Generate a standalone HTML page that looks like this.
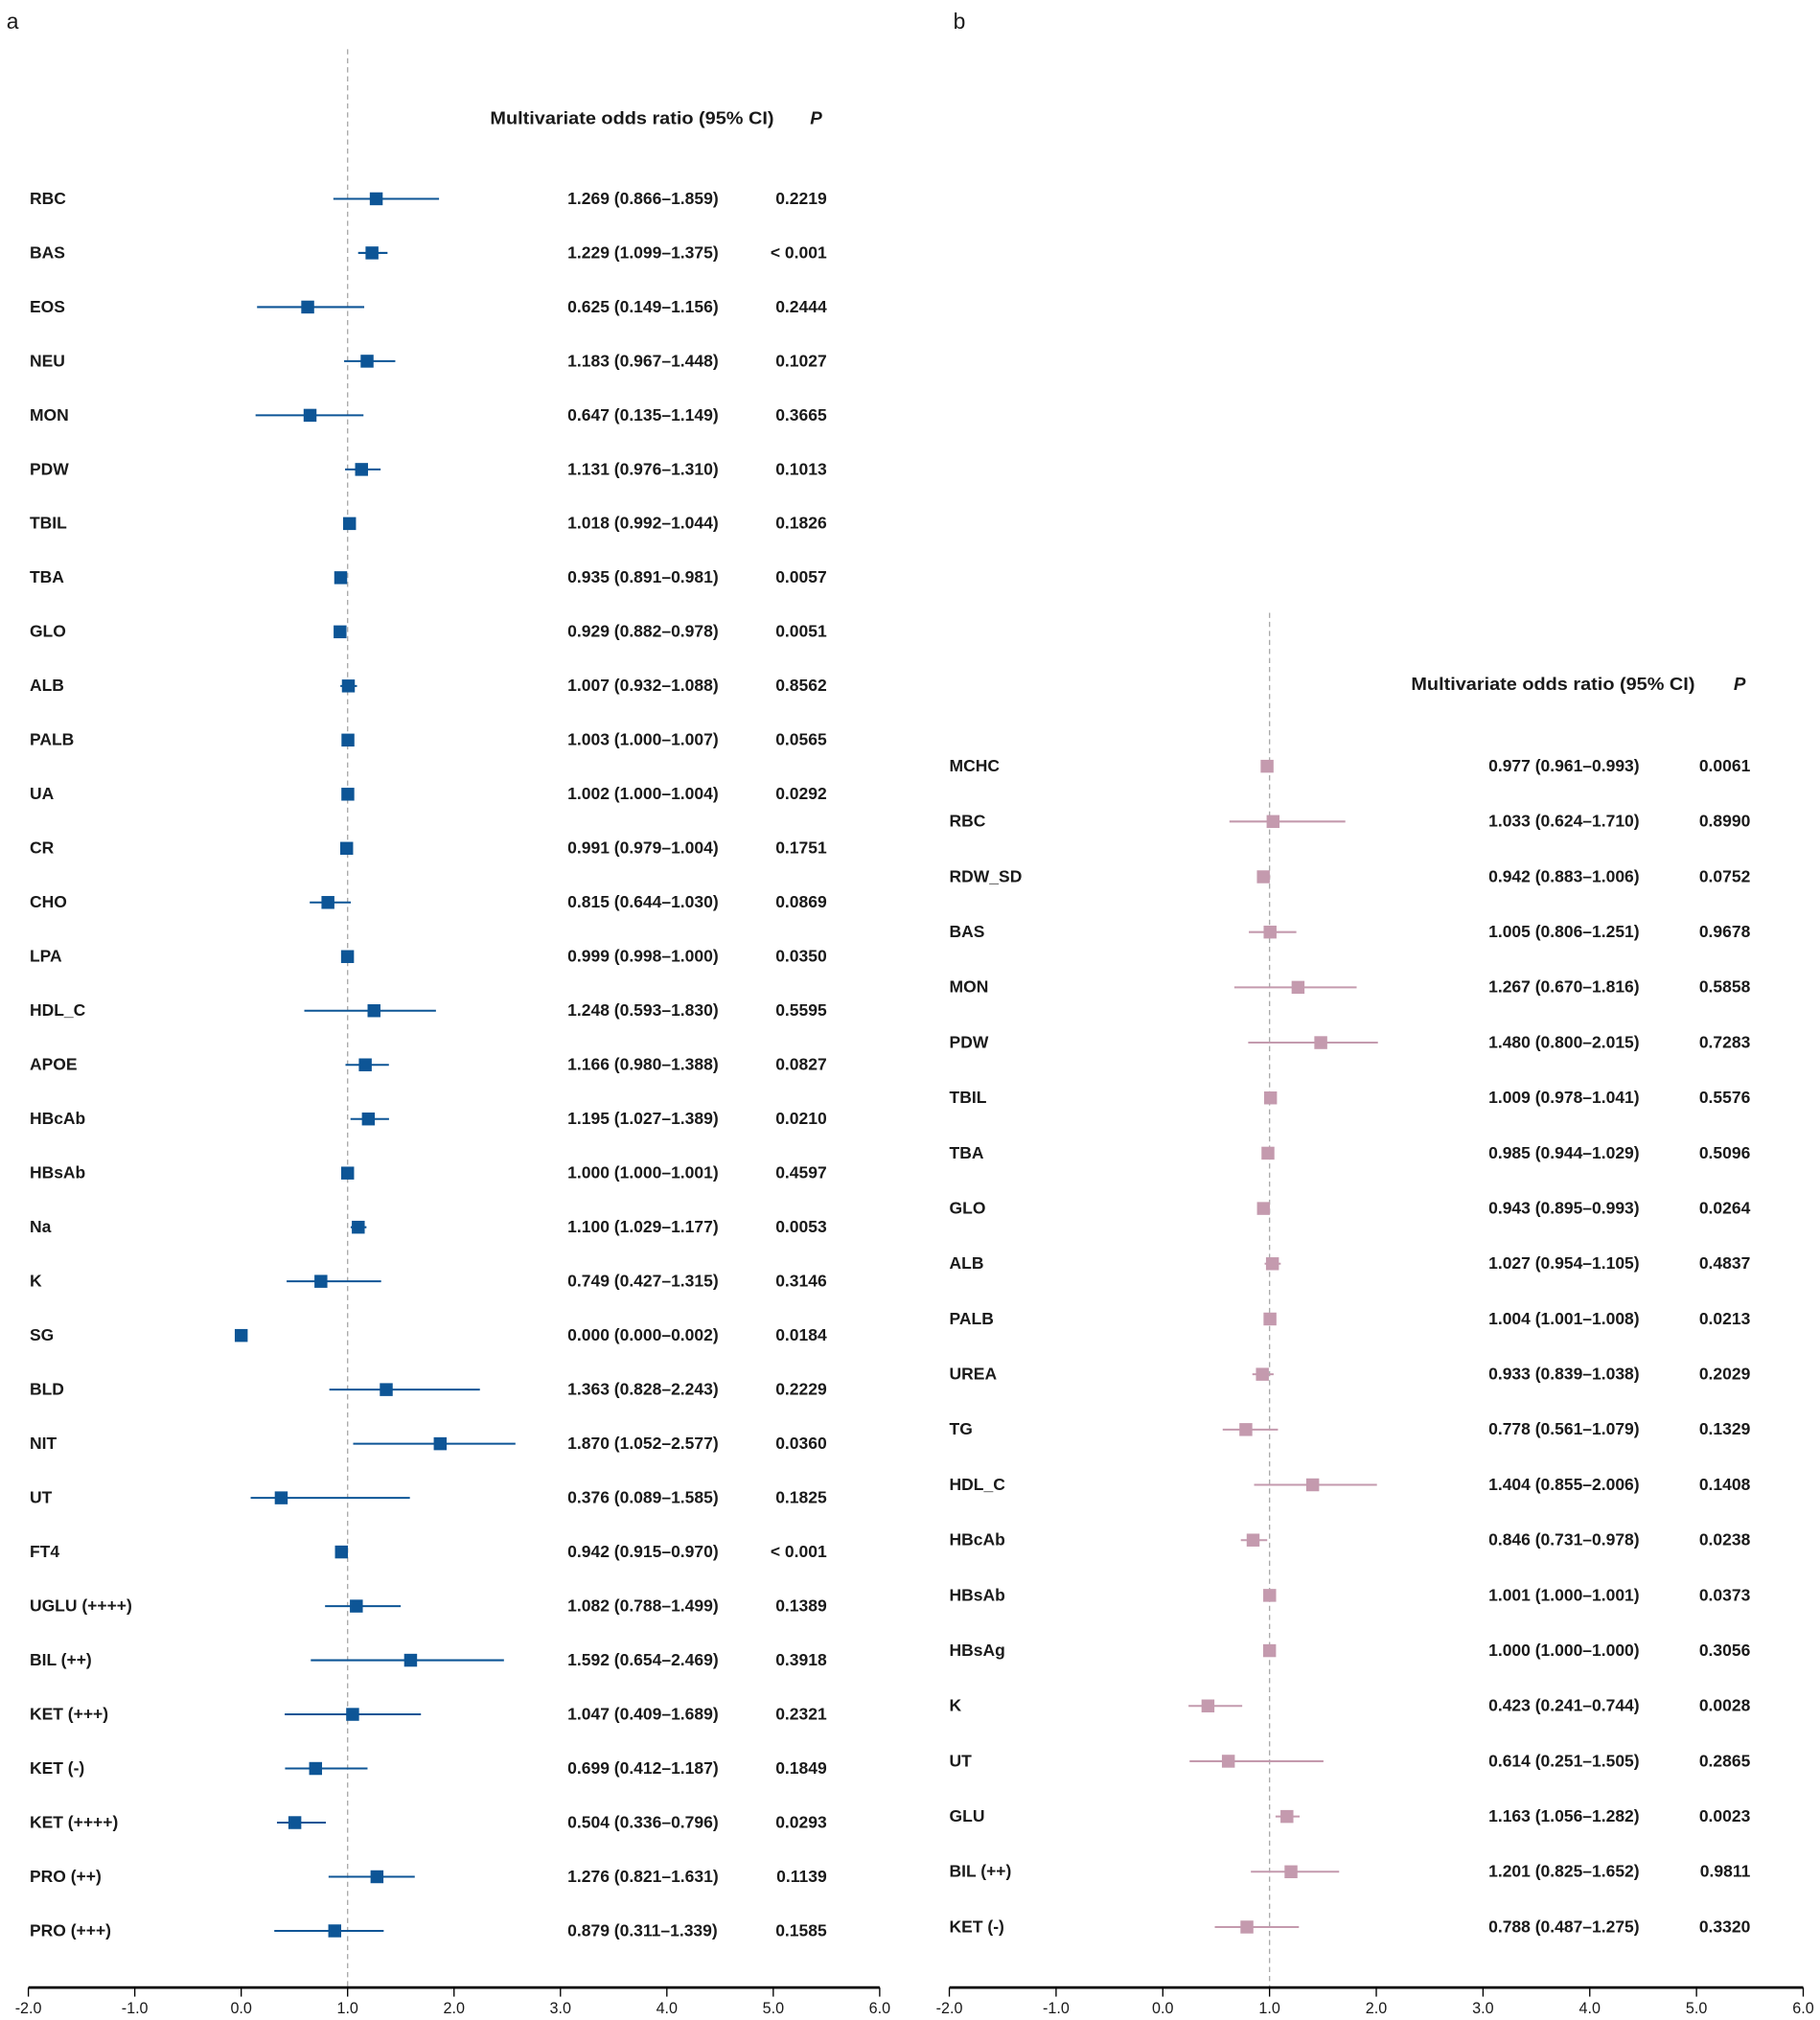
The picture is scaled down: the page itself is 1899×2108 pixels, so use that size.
<!DOCTYPE html>
<html><head><meta charset="utf-8"><style>
html,body{margin:0;padding:0;background:#fff}
svg{display:block;font-family:"Liberation Sans",Arial,sans-serif}
</style></head><body>
<svg id="chart" width="1899" height="2108" viewBox="0 0 1411 1566" xmlns="http://www.w3.org/2000/svg"></svg>
<script>
// Panel a data
const aLabels=["RBC","BAS","EOS","NEU","MON","PDW","TBIL","TBA","GLO","ALB","PALB","UA","CR","CHO","LPA","HDL_C","APOE","HBcAb","HBsAb","Na","K","SG","BLD","NIT","UT","FT4","UGLU (++++)","BIL (++)","KET (+++)","KET (-)","KET (++++)","PRO (++)","PRO (+++)"];
const aOR=[1.269,1.229,0.625,1.183,0.647,1.131,1.018,0.935,0.929,1.007,1.003,1.002,0.991,0.815,0.999,1.248,1.166,1.195,1.000,1.100,0.749,0.000,1.363,1.870,0.376,0.942,1.082,1.592,1.047,0.699,0.504,1.276,0.879];
const aLo=[0.866,1.099,0.149,0.967,0.135,0.976,0.992,0.891,0.882,0.932,1.000,1.000,0.979,0.644,0.998,0.593,0.980,1.027,1.000,1.029,0.427,0.000,0.828,1.052,0.089,0.915,0.788,0.654,0.409,0.412,0.336,0.821,0.311];
const aHi=[1.859,1.375,1.156,1.448,1.149,1.310,1.044,0.981,0.978,1.088,1.007,1.004,1.004,1.030,1.000,1.830,1.388,1.389,1.001,1.177,1.315,0.002,2.243,2.577,1.585,0.970,1.499,2.469,1.689,1.187,0.796,1.631,1.339];
const aP=["0.2219","< 0.001","0.2444","0.1027","0.3665","0.1013","0.1826","0.0057","0.0051","0.8562","0.0565","0.0292","0.1751","0.0869","0.0350","0.5595","0.0827","0.0210","0.4597","0.0053","0.3146","0.0184","0.2229","0.0360","0.1825","< 0.001","0.1389","0.3918","0.2321","0.1849","0.0293","0.1139","0.1585"];
// Panel b data
const bLabels=["MCHC","RBC","RDW_SD","BAS","MON","PDW","TBIL","TBA","GLO","ALB","PALB","UREA","TG","HDL_C","HBcAb","HBsAb","HBsAg","K","UT","GLU","BIL (++)","KET (-)"];
const bOR=[0.977,1.033,0.942,1.005,1.267,1.480,1.009,0.985,0.943,1.027,1.004,0.933,0.778,1.404,0.846,1.001,1.000,0.423,0.614,1.163,1.201,0.788];
const bLo=[0.961,0.624,0.883,0.806,0.670,0.800,0.978,0.944,0.895,0.954,1.001,0.839,0.561,0.855,0.731,1.000,1.000,0.241,0.251,1.056,0.825,0.487];
const bHi=[0.993,1.710,1.006,1.251,1.816,2.015,1.041,1.029,0.993,1.105,1.008,1.038,1.079,2.006,0.978,1.001,1.000,0.744,1.505,1.282,1.652,1.275];
const bP=["0.0061","0.8990","0.0752","0.9678","0.5858","0.7283","0.5576","0.5096","0.0264","0.4837","0.0213","0.2029","0.1329","0.1408","0.0238","0.0373","0.3056","0.0028","0.2865","0.0023","0.9811","0.3320"];
const ticks=[-2,-1,0,1,2,3,4,5,6];

const NS="http://www.w3.org/2000/svg";
const svg=document.getElementById('chart');
function mk(tag,attrs,parent){const e=document.createElementNS(NS,tag);for(const k in attrs)e.setAttribute(k,attrs[k]);(parent||svg).appendChild(e);return e;}
function txt(s,x,y,attrs,parent){const e=mk('text',Object.assign({x:x,y:y,'font-size':13,'font-weight':'bold',fill:'#1a1a1a'},attrs),parent);e.textContent=s;return e;}

function panel(cfg){
  const g=mk('g',{});
  
  
  const xs=v=>cfg.x0+(v+2)*cfg.unit;
  const ys=i=>cfg.y0+i*cfg.step;
  const pl=txt(cfg.letter,cfg.letterX,22,{'font-size':17,'font-weight':'normal'},g);
  
  
  const ref=mk('line',{x1:xs(1),x2:xs(1),y1:cfg.dashTop,y2:1541,stroke:'#aaa','stroke-width':1,'stroke-dasharray':'4,3'},g);
  
  
  const h=txt('Multivariate odds ratio (95% CI)',cfg.hx,cfg.hy,{textLength:220,lengthAdjust:'spacingAndGlyphs','font-size':14},g);
  
  
  const hp=txt('P',cfg.px+28,cfg.hy,{'font-style':'italic','font-size':14},g);
  
  
  const ax=mk('line',{x1:xs(-2),x2:xs(6),y1:1541,y2:1541,stroke:'#000','stroke-width':2},g);
  
  
  ticks.forEach(t=>{
    const tl=mk('line',{x1:xs(t),x2:xs(t),y1:1541,y2:1548,stroke:'#000','stroke-width':1},g);
    
    
    const tt=txt(t.toFixed(1),xs(t),1561,{'text-anchor':'middle','font-size':12,'font-weight':'normal'},g);
    
    
  });
  cfg.labels.forEach((lab,i)=>{
    const y=ys(i);
    const l=txt(lab,cfg.lx,y+4,{},g);
    
    
    const ci=mk('line',{x1:xs(cfg.lo[i]),x2:xs(cfg.hi[i]),y1:y,y2:y,stroke:cfg.color,'stroke-width':1.5},g);
    
    
    const sq=mk('rect',{x:xs(cfg.or[i])-5,y:y-5,width:10,height:10,fill:cfg.color},g);
    
    
    const o=txt(cfg.or[i].toFixed(3)+' ('+cfg.lo[i].toFixed(3)+'\u2013'+cfg.hi[i].toFixed(3)+')',cfg.ox,y+4,{},g);
    
    
    const p=txt(cfg.p[i],cfg.px+41,y+4,{'text-anchor':'end'},g);
    
    
  });
}
panel({name:'panel-a',letter:'a',letterX:5,x0:22,unit:82.5,y0:154,step:41.97,dashTop:38,hx:380,hy:96,lx:23,ox:440,px:600,color:'#0d5596',labels:aLabels,or:aOR,lo:aLo,hi:aHi,p:aP});
panel({name:'panel-b',letter:'b',letterX:739,x0:736,unit:82.75,y0:594,step:42.86,dashTop:475,hx:1094,hy:535,lx:736,ox:1154,px:1316,color:'#c49aae',labels:bLabels,or:bOR,lo:bLo,hi:bHi,p:bP});
</script>
</body></html>
